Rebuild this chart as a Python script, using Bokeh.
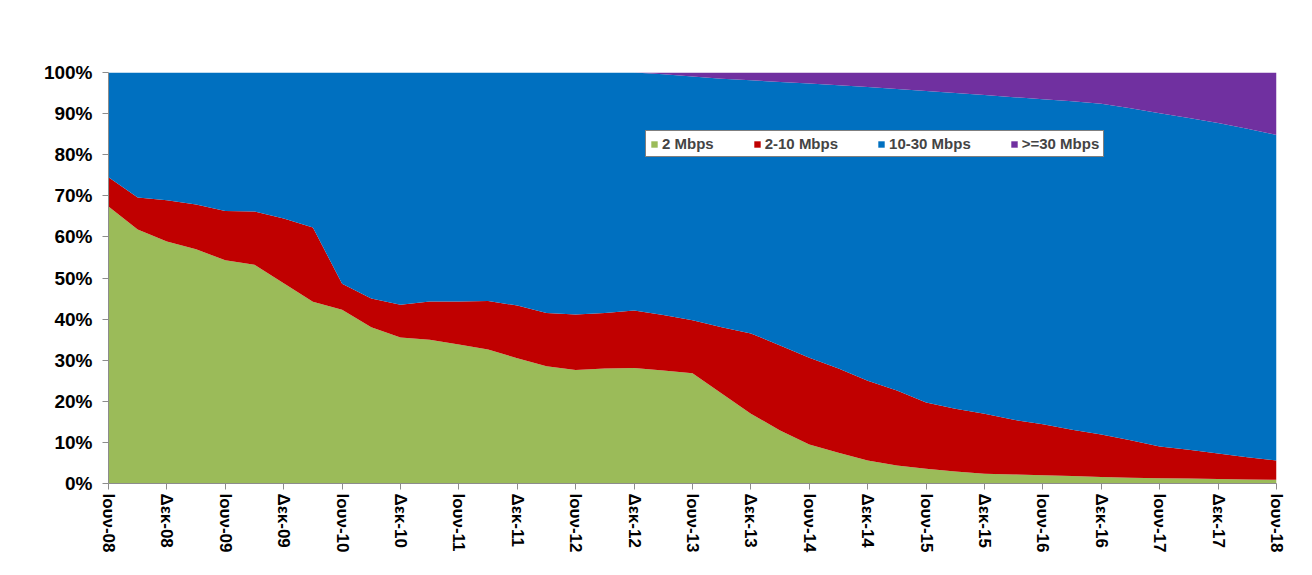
from bokeh.plotting import figure
from bokeh.models import ColumnDataSource, Range1d, FixedTicker
from bokeh.embed import file_html
from bokeh.resources import INLINE

# Semi-annual tick labels (data is quarterly: 41 points)
tick_labels = ["Ιουν-08", "Δεκ-08", "Ιουν-09", "Δεκ-09", "Ιουν-10", "Δεκ-10",
               "Ιουν-11", "Δεκ-11", "Ιουν-12", "Δεκ-12", "Ιουν-13", "Δεκ-13",
               "Ιουν-14", "Δεκ-14", "Ιουν-15", "Δεκ-15", "Ιουν-16", "Δεκ-16",
               "Ιουν-17", "Δεκ-17", "Ιουν-18"]

series_names = ["2 Mbps", "2-10 Mbps", "10-30 Mbps", ">=30 Mbps"]
series_colors = ["#9BBB59", "#C00000", "#0070C0", "#7030A0"]

# shares in %, quarterly from Jun-08 to Jun-18
mbps_2 = [67.4, 61.8, 58.9, 57.0, 54.3, 53.2, 48.7, 44.2, 42.3, 38.0,
          35.5, 35.0, 33.8, 32.6, 30.5, 28.5, 27.6, 28.0, 28.1, 27.5,
          26.8, 21.9, 17.0, 12.9, 9.5, 7.5, 5.6, 4.4, 3.6, 2.9,
          2.4, 2.2, 2.0, 1.8, 1.6, 1.4, 1.3, 1.2, 1.1, 1.0, 0.9]
mbps_2_10 = [7.1, 7.8, 10.0, 10.9, 12.0, 13.0, 15.8, 18.1, 6.3, 7.0,
             8.0, 9.3, 10.5, 11.8, 12.8, 13.0, 13.5, 13.5, 14.0, 13.5,
             12.9, 16.1, 19.5, 20.7, 21.1, 20.5, 19.4, 18.2, 16.1, 15.3,
             14.6, 13.3, 12.4, 11.3, 10.3, 9.1, 7.7, 7.0, 6.2, 5.4, 4.7]
mbps_10_30 = [25.5, 30.4, 31.1, 32.1, 33.7, 33.8, 35.5, 37.7, 51.4, 55.0,
              56.5, 55.7, 55.7, 55.6, 56.7, 58.5, 58.9, 58.5, 57.9, 58.6,
              59.3, 60.5, 61.6, 64.1, 66.7, 68.9, 71.5, 73.4, 75.8, 76.8,
              77.5, 78.5, 79.1, 79.9, 80.5, 80.8, 81.1, 80.7, 80.4, 79.9, 79.2]
mbps_30 = [0.0] * 19 + [0.4, 1.0, 1.5, 1.9, 2.3, 2.7, 3.1, 3.5, 4.0, 4.5,
                        5.0, 5.5, 6.0, 6.5, 7.0, 7.6, 8.7, 9.9, 11.1, 12.3,
                        13.7, 15.2]

x = list(range(len(mbps_2)))
cols = ["s0", "s1", "s2", "s3"]
src = ColumnDataSource(dict(x=x, s0=mbps_2, s1=mbps_2_10, s2=mbps_10_30, s3=mbps_30))

FONT = "Liberation Sans"

p = figure(width=1300, height=570, output_backend="svg", toolbar_location=None,
           x_range=Range1d(0, len(x) - 1), y_range=Range1d(0, 100),
           min_border_left=108, min_border_top=72, min_border_right=24,
           min_border_bottom=87)
p.frame_width = 1168
p.frame_height = 411

p.varea_stack(stackers=cols, x="x", color=series_colors, source=src,
              legend_label=series_names)

p.xgrid.visible = False
p.ygrid.visible = False
p.outline_line_color = None

# x axis
p.xaxis.ticker = FixedTicker(ticks=list(range(0, len(x), 2)))
p.xaxis.major_label_overrides = {i * 2: lab for i, lab in enumerate(tick_labels)}
p.xaxis.major_label_orientation = "vertical"
p.xaxis.major_label_text_font = FONT
p.xaxis.major_label_text_font_style = "bold"
p.xaxis.major_label_text_font_size = "17px"
p.xaxis.major_label_text_color = "#000000"
p.xaxis.axis_line_color = "#8c8c8c"
p.xaxis.major_tick_line_color = "#8c8c8c"
p.xaxis.major_tick_out = 6
p.xaxis.major_tick_in = 0
p.xaxis.minor_tick_line_color = None
p.xaxis.major_label_standoff = 4

# y axis
p.yaxis.ticker = FixedTicker(ticks=list(range(0, 101, 10)))
p.yaxis.major_label_overrides = {v: f"{v}%" for v in range(0, 101, 10)}
p.yaxis.major_label_text_font = FONT
p.yaxis.major_label_text_font_style = "bold"
p.yaxis.major_label_text_font_size = "19px"
p.yaxis.major_label_text_color = "#000000"
p.yaxis.axis_line_color = "#8c8c8c"
p.yaxis.major_tick_line_color = "#8c8c8c"
p.yaxis.major_tick_out = 6
p.yaxis.major_tick_in = 0
p.yaxis.minor_tick_line_color = None
p.yaxis.major_label_standoff = 10

# legend
lg = p.legend[0]
lg.orientation = "horizontal"
lg.location = (537, 326)
lg.border_line_color = "#000000"
lg.border_line_width = 1
lg.background_fill_color = "#ffffff"
lg.background_fill_alpha = 1
lg.label_text_font = FONT
lg.label_text_font_style = "bold"
lg.label_text_font_size = "15px"
lg.glyph_width = 8
lg.glyph_height = 8
lg.label_standoff = 4
lg.spacing = 39
lg.padding = 4
lg.margin = 0
lg.label_height = 15

open("out.html", "w").write(file_html(p, INLINE))
